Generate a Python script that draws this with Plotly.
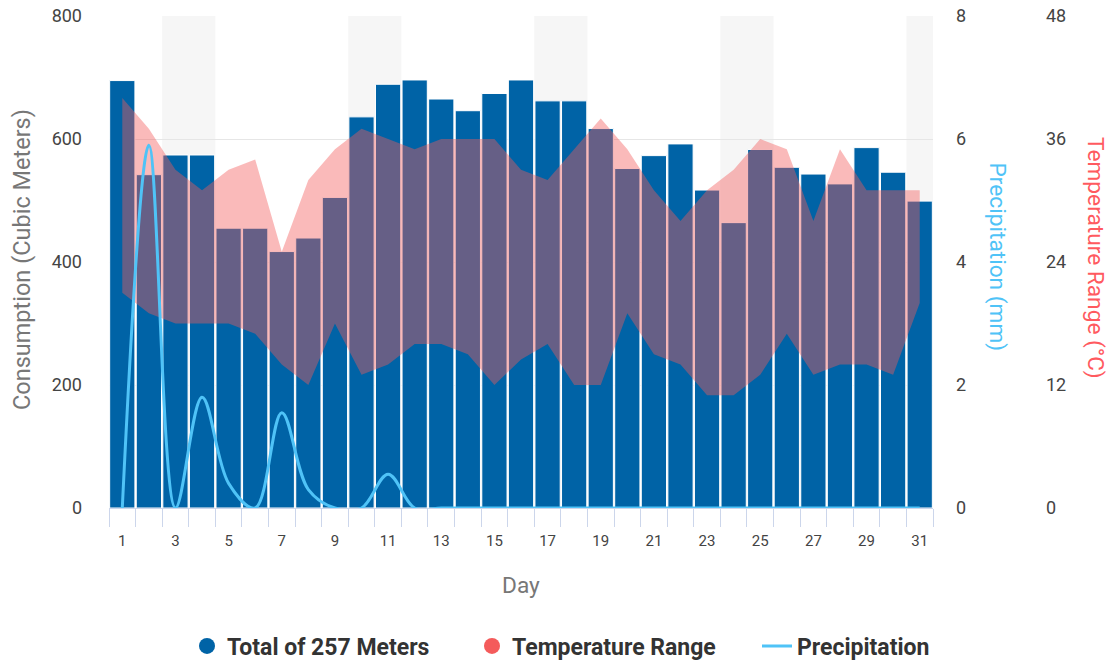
import plotly.graph_objects as go

# ---------------- data ----------------
days = list(range(1, 32))
consumption = [695, 542, 574, 574, 455, 455, 417, 439, 505, 636, 689, 696, 665, 646, 674,
               696, 662, 662, 617, 552, 573, 592, 517, 464, 583, 554, 543, 527, 586, 546, 499]
temp_high = [40, 37, 33, 31, 33, 34, 25, 32, 35, 37, 36, 35, 36, 36, 36,
             33, 32, 35, 38, 35, 31, 28, 31, 33, 36, 35, 28, 35, 31, 31, 31]
temp_low = [21, 19, 18, 18, 18, 17, 14, 12, 18, 13, 14, 16, 16, 15, 12,
            14.5, 16, 12, 12, 19, 15, 14, 11, 11, 13, 17, 13, 14, 14, 13, 20]
precipitation = [0, 5.9, 0, 1.8, 0.4, 0, 1.55, 0.3, 0, 0, 0.55, 0, 0, 0, 0,
                 0, 0, 0, 0, 0, 0, 0, 0, 0, 0, 0, 0, 0, 0, 0, 0]
weekend_starts = [3, 10, 17, 24, 31]
x_tick_days = list(range(1, 32, 2))

series_names = ["Total of 257 Meters", "Temperature Range", "Precipitation"]
axis_titles = ["Consumption (Cubic Meters)", "Precipitation (mm)", "Temperature Range (°C)", "Day"]

# ---------------- style / layout geometry ----------------
BLUE = "#0063a6"
RED = "#f45b5b"
LIGHT_BLUE = "#4fc3f7"
FONT = "Roboto"
W, H = 1113, 664
ML, MT = 109, 16
PLOT_BOTTOM = 508
PLOT_RIGHT = 933
MR = 8
MB = H - PLOT_BOTTOM
PW = W - ML - MR
PH = H - MT - MB
XD = (PLOT_RIGHT - ML) / PW


def px_x(page_px):
    return (page_px - ML) / PW


def px_y(page_py):
    return (H - MB - page_py) / PH


fig = go.Figure()

fig.add_trace(go.Bar(
    x=days, y=consumption, name=series_names[0], yaxis="y",
    marker=dict(color=BLUE, line=dict(color="white", width=1)),
    showlegend=False,
))
fig.add_trace(go.Scatter(
    x=days, y=temp_low, mode="lines", yaxis="y2",
    line=dict(width=0, color=RED), showlegend=False, hoverinfo="skip",
))
fig.add_trace(go.Scatter(
    x=days, y=temp_high, mode="lines", yaxis="y2", name=series_names[1],
    line=dict(width=0, color=RED), fill="tonexty",
    fillcolor="rgba(244,91,91,0.42)", showlegend=False,
))
fig.add_trace(go.Scatter(
    x=days, y=precipitation, mode="lines", yaxis="y3", name=series_names[2],
    line=dict(color=LIGHT_BLUE, width=3, shape="spline", smoothing=1),
    legendrank=3,
))
# legend entries with round symbols
fig.add_trace(go.Scatter(
    x=[None], y=[None], mode="markers", name=series_names[0],
    marker=dict(symbol="circle", size=17, color=BLUE), legendrank=1,
))
fig.add_trace(go.Scatter(
    x=[None], y=[None], mode="markers", name=series_names[1],
    marker=dict(symbol="circle", size=17, color=RED), legendrank=2,
))

shapes = []
for d in weekend_starts:
    shapes.append(dict(
        type="rect", xref="x", yref="paper",
        x0=d - 0.5, x1=min(d + 1.5, days[-1] + 0.5), y0=0, y1=1,
        fillcolor="#f6f6f6", line=dict(width=0), layer="below",
    ))

tick_font = dict(family=FONT, size=18, color="#444")

fig.update_layout(
    width=W, height=H, autosize=False,
    margin=dict(l=ML, r=MR, t=MT, b=MB, autoexpand=False),
    plot_bgcolor="white", paper_bgcolor="white",
    bargap=0.05,
    font=dict(family=FONT, color="#444"),
    shapes=shapes,
    xaxis=dict(
        domain=[0, XD], range=[0.5, 31.5],
        tickmode="array", tickvals=x_tick_days, ticktext=[str(d) for d in x_tick_days],
        ticks="", showgrid=False, zeroline=False,
        showline=True, linecolor="#ccd6eb", linewidth=1,
        tickfont=dict(family=FONT, size=15, color="#444"),
        ticklabelstandoff=19, ticklabeloverflow="allow",
        minor=dict(tickmode="array", tickvals=[d - 0.5 for d in days] + [days[-1] + 0.5],
                   ticks="outside", ticklen=18, tickcolor="#ccd6eb", tickwidth=1, showgrid=False),
    ),
    yaxis=dict(
        range=[0, 800], tick0=0, dtick=200,
        showgrid=True, gridcolor="#e6e6e6", gridwidth=1,
        zeroline=False, showline=False, ticks="",
        tickfont=tick_font, ticklabelstandoff=26, ticklabeloverflow="allow",
    ),
    yaxis2=dict(
        overlaying="y", side="right", anchor="free", position=px_x(1023),
        range=[0, 48], tick0=0, dtick=12,
        showgrid=False, zeroline=False, showline=False, ticks="",
        tickfont=tick_font, ticklabelstandoff=22, ticklabeloverflow="allow",
    ),
    yaxis3=dict(
        overlaying="y", side="right", anchor="x",
        range=[0, 8], tick0=0, dtick=2,
        showgrid=False, zeroline=False, showline=False, ticks="",
        tickfont=tick_font, ticklabelstandoff=22, ticklabeloverflow="allow",
    ),
    legend=dict(
        orientation="h", traceorder="normal",
        x=px_x(187), xanchor="left", y=px_y(646), yanchor="middle",
        font=dict(family=FONT, size=23, color="#333", weight="bold"),
        entrywidth=240, bgcolor="rgba(0,0,0,0)",
    ),
    annotations=[
        dict(text=axis_titles[0], xref="paper", yref="paper", x=px_x(22), y=px_y(260),
             xanchor="center", yanchor="middle", textangle=-90, showarrow=False,
             font=dict(family=FONT, size=23.5, color="#777")),
        dict(text=axis_titles[1], xref="paper", yref="paper", x=px_x(997.5), y=px_y(257),
             xanchor="center", yanchor="middle", textangle=90, showarrow=False,
             font=dict(family=FONT, size=22.7, color=LIGHT_BLUE)),
        dict(text=axis_titles[2], xref="paper", yref="paper", x=px_x(1095.5), y=px_y(257.5),
             xanchor="center", yanchor="middle", textangle=90, showarrow=False,
             font=dict(family=FONT, size=22.7, color="#ff5a5f")),
        dict(text=axis_titles[3], xref="paper", yref="paper", x=px_x(521), y=px_y(585),
             xanchor="center", yanchor="middle", showarrow=False,
             font=dict(family=FONT, size=22.7, color="#777")),
    ],
)

fig.write_html(
    "out.html",
    config={"displayModeBar": False},
    post_script="document.body.style.margin='0';document.body.style.overflow='hidden';",
)
